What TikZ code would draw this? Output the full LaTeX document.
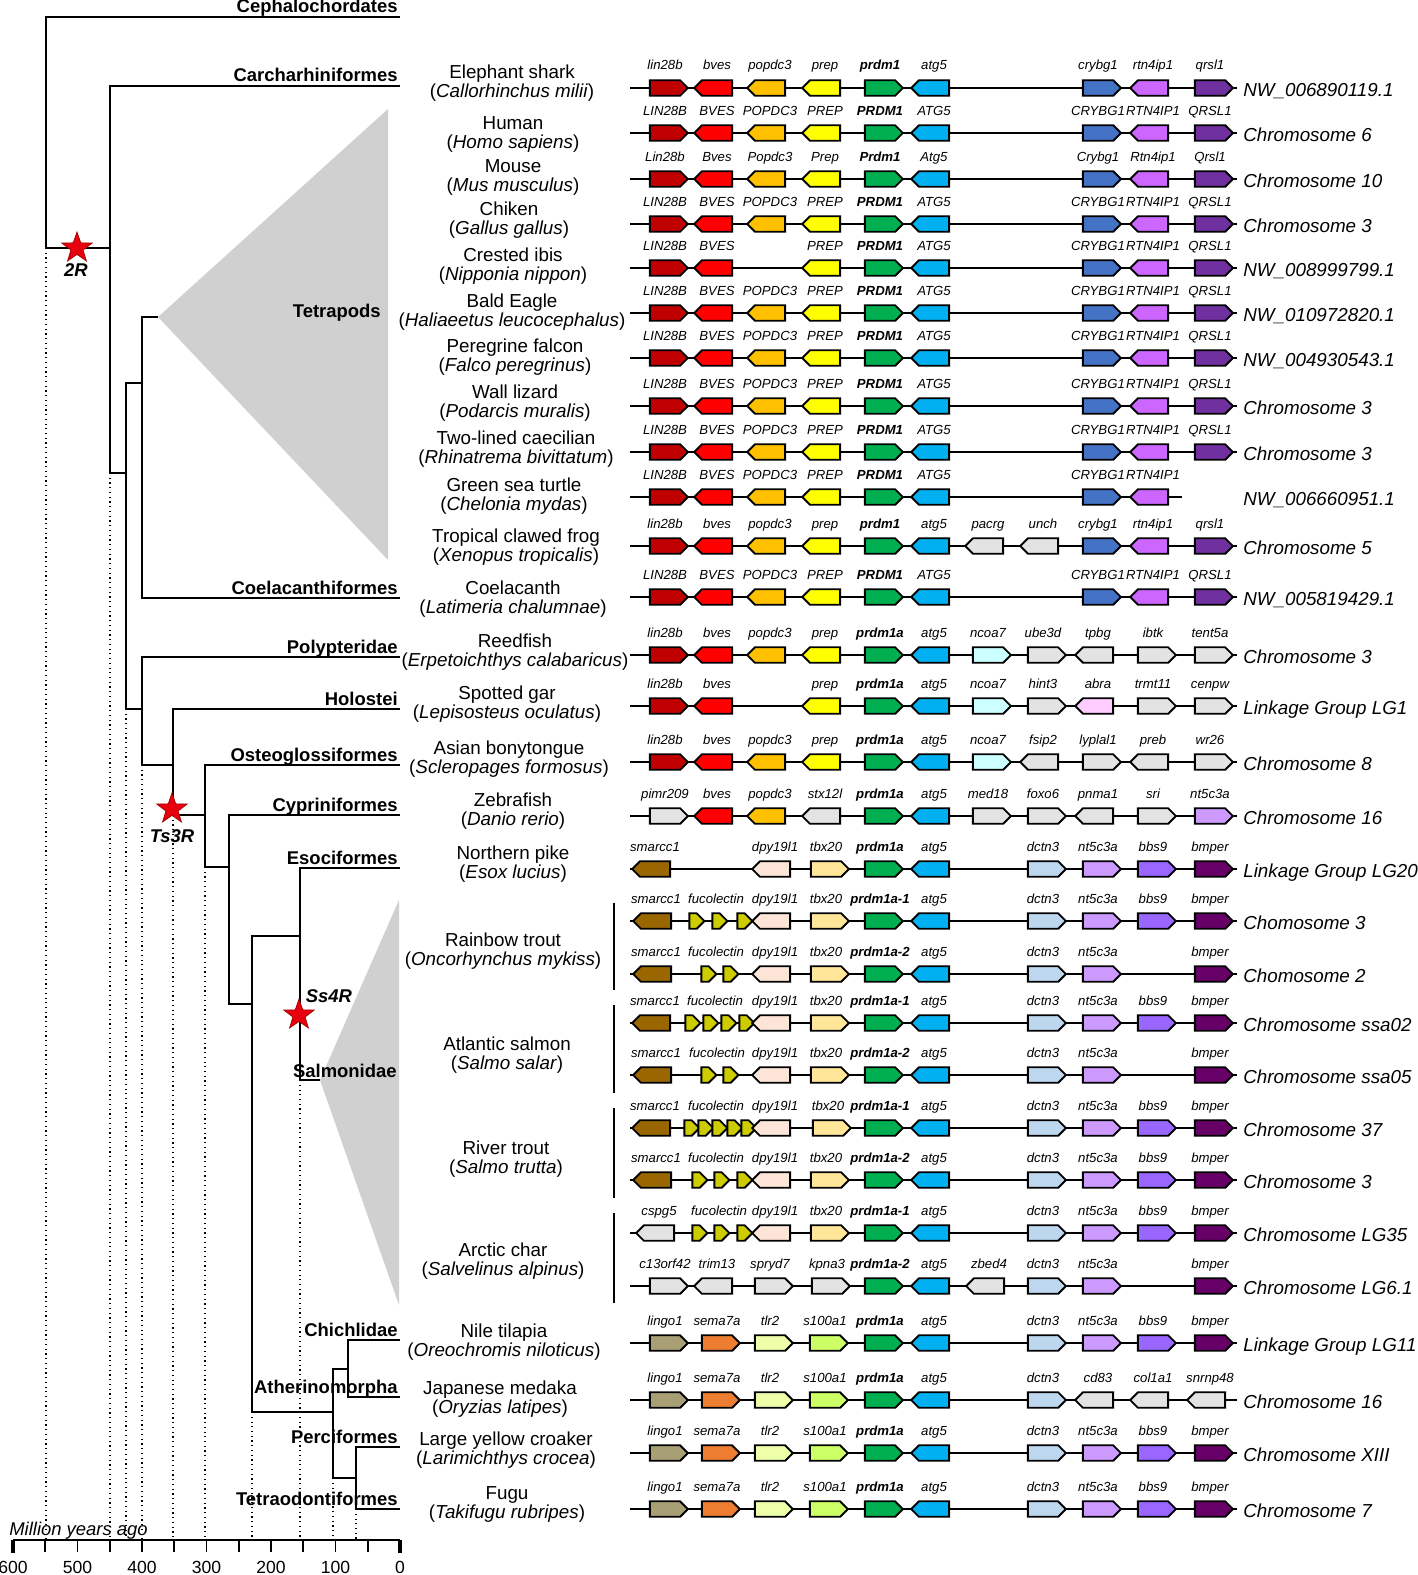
\documentclass[tikz,border=0pt]{standalone}
\usepackage{fontspec}
\setmainfont{Liberation Sans}
\usepackage{tikz}
\usetikzlibrary{shapes.geometric,shapes.symbols,positioning}

\definecolor{cLin}{HTML}{C00000}
\definecolor{cBves}{HTML}{FF0000}
\definecolor{cPop}{HTML}{FFC000}
\definecolor{cPrep}{HTML}{FFFF00}
\definecolor{cPrdm}{HTML}{00B050}
\definecolor{cAtg}{HTML}{00B0F0}
\definecolor{cCry}{HTML}{4472C4}
\definecolor{cRtn}{HTML}{CC66FF}
\definecolor{cQrs}{HTML}{7030A0}
\definecolor{cGray}{HTML}{E3E3E3}
\definecolor{cNcoa}{HTML}{CCFFFF}
\definecolor{cAbra}{HTML}{FFCCFF}
\definecolor{cNt}{HTML}{CC99FF}
\definecolor{cBbs}{HTML}{9966FF}
\definecolor{cBmp}{HTML}{660066}
\definecolor{cDct}{HTML}{BDD7EE}
\definecolor{cSma}{HTML}{996600}
\definecolor{cFuc}{HTML}{CCCC00}
\definecolor{cDpy}{HTML}{FCE4D6}
\definecolor{cTbx}{HTML}{FFE699}
\definecolor{cLingo}{HTML}{A89F74}
\definecolor{cSema}{HTML}{ED7D31}
\definecolor{cTlr}{HTML}{EEFFAA}
\definecolor{cSoo}{HTML}{CCFF66}
\definecolor{cClade}{HTML}{D0D0D0}
\definecolor{cStar}{HTML}{E8000F}
\definecolor{cStarEdge}{HTML}{A00000}

% one gene track: name, y, end of line, chromosome, genes as x/dir/colour/label
\newcommand{\track}[5]{%
  \coordinate (#1s) at (630,#2);
  \coordinate (#1e) at (#3,#2);
  \draw[bbone] (#1s) -- (#1e);
  \foreach \gX/\gD/\gC/\gT [count=\gN] in {#5} {
    \node[g\gD, fill=\gC] (#1g\gN) at (\gX,#2) {};
    \node[glbl] (#1t\gN) at ({\gX},{#2-18}) {\gT};
  }
  \node[chrom] (#1c) at (1243,{#2+8}) {#4};
}

\begin{document}
\begin{tikzpicture}[x=0.02cm, y=-0.02cm,
    gene/.style={signal, draw, line width=1.1pt, minimum width=0.76cm,
                 minimum height=0.31cm, inner sep=0pt},
    gR/.style={gene, signal to=east},
    gL/.style={gene, signal to=west},
    gF/.style={gene, signal to=east, minimum width=0.3cm},
    glbl/.style={font=\fontsize{7.5}{9}\selectfont\itshape, anchor=base, inner sep=0pt},
    chrom/.style={font=\fontsize{10.7}{12}\selectfont\itshape, anchor=base west, inner sep=0pt},
    sp/.style={font=\fontsize{10.7}{10.8}\selectfont, align=center, inner sep=0pt},
    clade/.style={font=\fontsize{10.5}{12}\selectfont\bfseries, anchor=base east, inner sep=0pt},
    tree/.style={line width=0.85pt},
    bbone/.style={line width=0.7pt},
    vdot/.style={dotted, line width=0.7pt},
    axis/.style={line width=1pt},
    dup/.style={star, star points=5, star point ratio=2.5, minimum size=0.64cm,
                inner sep=0pt, fill=cStar, draw=cStarEdge, line width=0.4pt},
    duplbl/.style={font=\fontsize{10.5}{12}\selectfont\bfseries\itshape, inner sep=0pt},
    yrs/.style={font=\fontsize{10}{12}\selectfont, inner sep=0pt},
  ]
  \useasboundingbox (0,0) rectangle (1417,1575);

  % Tree tips and inner nodes
  \coordinate (cephT) at (400,17);
  \coordinate (carT) at (400,86);
  \coordinate (coelT) at (400,598);
  \coordinate (polyT) at (400,657);
  \coordinate (holoT) at (400,709);
  \coordinate (osteT) at (400,765);
  \coordinate (cypT) at (400,815);
  \coordinate (esoT) at (400,868);
  \coordinate (chiT) at (400,1340);
  \coordinate (athT) at (400,1397);
  \coordinate (perT) at (400,1447);
  \coordinate (tetT) at (400,1509);
  \coordinate (tetA) at (158,317);
  \coordinate (salA) at (320,1080);
  \coordinate (root) at (46,248);
  \coordinate (gna) at (110,248);
  \coordinate (ost) at (126,473);
  \coordinate (sar) at (142,383);
  \coordinate (act) at (142,709);
  \coordinate (neo) at (173,765);
  \coordinate (tel) at (205,815);
  \coordinate (oto) at (229,867);
  \coordinate (eut) at (252,1004);
  \coordinate (eso) at (300,936);
  \coordinate (per) at (333,1412);
  \coordinate (ath) at (348,1369);
  \coordinate (tet) at (356,1478);
  \coordinate (ax0) at (13,1540);
  \coordinate (ax1) at (400,1540);

  % Dotted time guides
  \draw[vdot] (root) -- (root |- ax0);
  \draw[vdot] (gna |- ost) -- (gna |- ax0);
  \draw[vdot] (ost |- act) -- (ost |- ax0);
  \draw[vdot] (act |- neo) -- (act |- ax0);
  \draw[vdot] (neo |- tel) -- (neo |- ax0);
  \draw[vdot] (tel |- oto) -- (tel |- ax0);
  \draw[vdot] (eut |- per) -- (eut |- ax0);
  \draw[vdot] (eso |- salA) -- (eso |- ax0);
  \draw[vdot] (per |- tet) -- (per |- ax0);
  \draw[vdot] (tet |- tetT) -- (tet |- ax0);

  % Collapsed clades
  \coordinate (tetTop) at (388,109);
  \coordinate (tetBot) at (388,560);
  \fill[cClade] (tetA) -- (tetTop) -- (tetBot) -- cycle;
  \coordinate (salTop) at (399,900);
  \coordinate (salBot) at (399,1305);
  \fill[cClade] (salA) -- (salTop) -- (salBot) -- cycle;

  % Branches
  \draw[tree] (cephT) -| (root) |- (gna);
  \draw[tree] (carT) -| (gna) |- (ost);
  \draw[tree] (sar) -| (ost) |- (act);
  \draw[tree] (tetA) -| (sar) |- (coelT);
  \draw[tree] (polyT) -| (act) |- (neo);
  \draw[tree] (holoT) -| (neo) |- (tel);
  \draw[tree] (osteT) -| (tel) |- (oto);
  \draw[tree] (cypT) -| (oto) |- (eut);
  \draw[tree] (eso) -| (eut) |- (per);
  \draw[tree] (esoT) -| (eso) |- (salA);
  \draw[tree] (ath) -| (per) |- (tet);
  \draw[tree] (chiT) -| (ath) |- (athT);
  \draw[tree] (perT) -| (tet) |- (tetT);

  % Clade names
  \node[clade] (cephL) at (398,13) {Cephalochordates};
  \node[clade] (carL) at (398,82) {Carcharhiniformes};
  \node[clade, anchor=east] (tetL) at (381,313) {Tetrapods};
  \node[clade] (coelL) at (398,594) {Coelacanthiformes};
  \node[clade] (polyL) at (398,653) {Polypteridae};
  \node[clade] (holoL) at (398,705) {Holostei};
  \node[clade] (osteL) at (398,761) {Osteoglossiformes};
  \node[clade] (cypL) at (398,811) {Cypriniformes};
  \node[clade] (esoL) at (398,864) {Esociformes};
  \node[clade] (salL) at (397,1077) {Salmonidae};
  \node[clade] (chiL) at (398,1336) {Chichlidae};
  \node[clade] (athL) at (398,1393) {Atherinomorpha};
  \node[clade] (perL) at (398,1443) {Perciformes};
  \node[clade] (tetrL) at (398,1505) {Tetraodontiformes};

  % Genome duplications
  \node[dup] (s2R) at (77,248) {};
  \node[duplbl] (l2R) at (76,270) {2R};
  \node[dup] (s3R) at (172,809) {};
  \node[duplbl] (l3R) at (172,836) {Ts3R};
  \node[dup] (s4R) at (299,1015) {};
  \node[duplbl] (l4R) at (329,996) {Ss4R};

  % Time axis
  \draw[axis] (ax0) -- (ax1);
  \foreach \t in {50,100,...,550}
    \draw[axis] ({400-0.645*\t},1540) -- ++(0,12);
  \draw[axis, line width=2pt] (ax0) -- ++(0,13);
  \draw[axis, line width=2pt] (ax1) -- ++(0,13);
  \foreach \t in {0,100,...,600}
    \node[yrs] (yr\t) at ({400-0.645*\t},1567) {\t};
  \node[yrs, font=\fontsize{10.5}{12}\selectfont\itshape, anchor=base west] (mya) at (9,1535) {Million years ago};

  % Species
  \node[sp] (spShark) at (512,83) {Elephant shark\\(\textit{Callorhinchus milii})};
  \node[sp] (spHuman) at (513,134) {Human\\(\textit{Homo sapiens})};
  \node[sp] (spMouse) at (513,177) {Mouse\\(\textit{Mus musculus})};
  \node[sp] (spChick) at (509,220) {Chiken\\(\textit{Gallus gallus})};
  \node[sp] (spIbis) at (513,266) {Crested ibis\\(\textit{Nipponia nippon})};
  \node[sp] (spEagle) at (512,312) {Bald Eagle\\(\textit{Haliaeetus leucocephalus})};
  \node[sp] (spFalc) at (515,357) {Peregrine falcon\\(\textit{Falco peregrinus})};
  \node[sp] (spLiz) at (515,403) {Wall lizard\\(\textit{Podarcis muralis})};
  \node[sp] (spCaec) at (516,449) {Two-lined caecilian\\(\textit{Rhinatrema bivittatum})};
  \node[sp] (spTurt) at (514,496) {Green sea turtle\\(\textit{Chelonia mydas})};
  \node[sp] (spFrog) at (516,547) {Tropical clawed frog\\(\textit{Xenopus tropicalis})};
  \node[sp] (spCoel) at (513,599) {Coelacanth\\(\textit{Latimeria chalumnae})};
  \node[sp] (spReed) at (515,652) {Reedfish\\(\textit{Erpetoichthys calabaricus})};
  \node[sp] (spGar) at (507,704) {Spotted gar\\(\textit{Lepisosteus oculatus})};
  \node[sp] (spTong) at (509,759) {Asian bonytongue\\(\textit{Scleropages formosus})};
  \node[sp] (spZebra) at (513,811) {Zebrafish\\(\textit{Danio rerio})};
  \node[sp] (spPike) at (513,864) {Northern pike\\(\textit{Esox lucius})};
  \node[sp] (spTrout) at (503,951) {Rainbow trout\\(\textit{Oncorhynchus mykiss})};
  \node[sp] (spSalm) at (507,1055) {Atlantic salmon\\(\textit{Salmo salar})};
  \node[sp] (spRiver) at (506,1159) {River trout\\(\textit{Salmo trutta})};
  \node[sp] (spChar) at (503,1261) {Arctic char\\(\textit{Salvelinus alpinus})};
  \node[sp] (spTila) at (504,1342) {Nile tilapia\\(\textit{Oreochromis niloticus})};
  \node[sp] (spMed) at (500,1399) {Japanese medaka\\(\textit{Oryzias latipes})};
  \node[sp] (spCroak) at (506,1450) {Large yellow croaker\\(\textit{Larimichthys crocea})};
  \node[sp] (spFugu) at (507,1504) {Fugu\\(\textit{Takifugu rubripes})};

  % Salmonid paralogue brackets
  \draw[bbone] (614,903) -- (614,990);
  \draw[bbone] (614,1005) -- (614,1093);
  \draw[bbone] (614,1108) -- (614,1198);
  \draw[bbone] (614,1213) -- (614,1303);

  % Gene tracks
  \track{shark}{88}{1237}{NW\_006890119.1}{665/R/cLin/lin28b, 717/L/cBves/bves, 770/L/cPop/popdc3, 825/L/cPrep/prep, 880/R/cPrdm/\textbf{prdm1}, 934/L/cAtg/atg5, 1098/R/cCry/crybg1, 1153/L/cRtn/rtn4ip1, 1210/R/cQrs/qrsl1}
  \track{human}{133}{1237}{Chromosome 6}{665/R/cLin/LIN28B, 717/L/cBves/BVES, 770/L/cPop/POPDC3, 825/L/cPrep/PREP, 880/R/cPrdm/\textbf{PRDM1}, 934/L/cAtg/ATG5, 1098/R/cCry/CRYBG1, 1153/L/cRtn/RTN4IP1, 1210/R/cQrs/QRSL1}
  \track{mouse}{179}{1237}{Chromosome 10}{665/R/cLin/Lin28b, 717/L/cBves/Bves, 770/L/cPop/Popdc3, 825/L/cPrep/Prep, 880/R/cPrdm/\textbf{Prdm1}, 934/L/cAtg/Atg5, 1098/R/cCry/Crybg1, 1153/L/cRtn/Rtn4ip1, 1210/R/cQrs/Qrsl1}
  \track{chick}{224}{1237}{Chromosome 3}{665/R/cLin/LIN28B, 717/L/cBves/BVES, 770/L/cPop/POPDC3, 825/L/cPrep/PREP, 880/R/cPrdm/\textbf{PRDM1}, 934/L/cAtg/ATG5, 1098/R/cCry/CRYBG1, 1153/L/cRtn/RTN4IP1, 1210/R/cQrs/QRSL1}
  \track{ibis}{268}{1237}{NW\_008999799.1}{665/R/cLin/LIN28B, 717/L/cBves/BVES, 825/L/cPrep/PREP, 880/R/cPrdm/\textbf{PRDM1}, 934/L/cAtg/ATG5, 1098/R/cCry/CRYBG1, 1153/L/cRtn/RTN4IP1, 1210/R/cQrs/QRSL1}
  \track{eagle}{313}{1237}{NW\_010972820.1}{665/R/cLin/LIN28B, 717/L/cBves/BVES, 770/L/cPop/POPDC3, 825/L/cPrep/PREP, 880/R/cPrdm/\textbf{PRDM1}, 934/L/cAtg/ATG5, 1098/R/cCry/CRYBG1, 1153/L/cRtn/RTN4IP1, 1210/R/cQrs/QRSL1}
  \track{falc}{358}{1237}{NW\_004930543.1}{665/R/cLin/LIN28B, 717/L/cBves/BVES, 770/L/cPop/POPDC3, 825/L/cPrep/PREP, 880/R/cPrdm/\textbf{PRDM1}, 934/L/cAtg/ATG5, 1098/R/cCry/CRYBG1, 1153/L/cRtn/RTN4IP1, 1210/R/cQrs/QRSL1}
  \track{liz}{406}{1237}{Chromosome 3}{665/R/cLin/LIN28B, 717/L/cBves/BVES, 770/L/cPop/POPDC3, 825/L/cPrep/PREP, 880/R/cPrdm/\textbf{PRDM1}, 934/L/cAtg/ATG5, 1098/R/cCry/CRYBG1, 1153/L/cRtn/RTN4IP1, 1210/R/cQrs/QRSL1}
  \track{caec}{452}{1237}{Chromosome 3}{665/R/cLin/LIN28B, 717/L/cBves/BVES, 770/L/cPop/POPDC3, 825/L/cPrep/PREP, 880/R/cPrdm/\textbf{PRDM1}, 934/L/cAtg/ATG5, 1098/R/cCry/CRYBG1, 1153/L/cRtn/RTN4IP1, 1210/R/cQrs/QRSL1}
  \track{turt}{497}{1182}{NW\_006660951.1}{665/R/cLin/LIN28B, 717/L/cBves/BVES, 770/L/cPop/POPDC3, 825/L/cPrep/PREP, 880/R/cPrdm/\textbf{PRDM1}, 934/L/cAtg/ATG5, 1098/R/cCry/CRYBG1, 1153/L/cRtn/RTN4IP1}
  \track{frog}{546}{1237}{Chromosome 5}{665/R/cLin/lin28b, 717/L/cBves/bves, 770/L/cPop/popdc3, 825/L/cPrep/prep, 880/R/cPrdm/\textbf{prdm1}, 934/L/cAtg/atg5, 988/L/cGray/pacrg, 1043/L/cGray/unch, 1098/R/cCry/crybg1, 1153/L/cRtn/rtn4ip1, 1210/R/cQrs/qrsl1}
  \track{coel}{597}{1237}{NW\_005819429.1}{665/R/cLin/LIN28B, 717/L/cBves/BVES, 770/L/cPop/POPDC3, 825/L/cPrep/PREP, 880/R/cPrdm/\textbf{PRDM1}, 934/L/cAtg/ATG5, 1098/R/cCry/CRYBG1, 1153/L/cRtn/RTN4IP1, 1210/R/cQrs/QRSL1}
  \track{reed}{655}{1237}{Chromosome 3}{665/R/cLin/lin28b, 717/L/cBves/bves, 770/L/cPop/popdc3, 825/L/cPrep/prep, 880/R/cPrdm/\textbf{prdm1a}, 934/L/cAtg/atg5, 988/R/cNcoa/ncoa7, 1043/R/cGray/ube3d, 1098/L/cGray/tpbg, 1153/R/cGray/ibtk, 1210/R/cGray/tent5a}
  \track{gar}{706}{1237}{Linkage Group LG1}{665/R/cLin/lin28b, 717/L/cBves/bves, 825/L/cPrep/prep, 880/R/cPrdm/\textbf{prdm1a}, 934/L/cAtg/atg5, 988/R/cNcoa/ncoa7, 1043/R/cGray/hint3, 1098/L/cAbra/abra, 1153/R/cGray/trmt11, 1210/R/cGray/cenpw}
  \track{tong}{762}{1237}{Chromosome 8}{665/R/cLin/lin28b, 717/L/cBves/bves, 770/L/cPop/popdc3, 825/L/cPrep/prep, 880/R/cPrdm/\textbf{prdm1a}, 934/L/cAtg/atg5, 988/R/cNcoa/ncoa7, 1043/L/cGray/fsip2, 1098/R/cGray/lyplal1, 1153/L/cGray/preb, 1210/R/cGray/wr26}
  \track{zebra}{816}{1237}{Chromosome 16}{665/R/cGray/pimr209, 717/L/cBves/bves, 770/L/cPop/popdc3, 825/L/cGray/stx12l, 880/R/cPrdm/\textbf{prdm1a}, 934/L/cAtg/atg5, 988/R/cGray/med18, 1043/R/cGray/foxo6, 1098/L/cGray/pnma1, 1153/R/cGray/sri, 1210/R/cNt/nt5c3a}
  \track{pike}{869}{1237}{Linkage Group LG20}{655/L/cSma/smarcc1, 775/L/cDpy/dpy19l1, 826/R/cTbx/tbx20, 880/R/cPrdm/\textbf{prdm1a}, 934/L/cAtg/atg5, 1043/R/cDct/dctn3, 1098/R/cNt/nt5c3a, 1153/R/cBbs/bbs9, 1210/R/cBmp/bmper}

  % Salmonid tracks
  \track{trouta}{921}{1237}{Chomosome 3}{656/L/cSma/smarcc1, 693/F/cFuc/{}, 716/F/cFuc/{}, 741/F/cFuc/{}, 775/L/cDpy/dpy19l1, 826/R/cTbx/tbx20, 880/R/cPrdm/\textbf{prdm1a-1}, 934/L/cAtg/atg5, 1043/R/cDct/dctn3, 1098/R/cNt/nt5c3a, 1153/R/cBbs/bbs9, 1210/R/cBmp/bmper}
  \node[glbl] (troutaf) at (716,903) {fucolectin};
  \track{troutb}{974}{1237}{Chomosome 2}{656/L/cSma/smarcc1, 705/F/cFuc/{}, 727/F/cFuc/{}, 775/L/cDpy/dpy19l1, 826/R/cTbx/tbx20, 880/R/cPrdm/\textbf{prdm1a-2}, 934/L/cAtg/atg5, 1043/R/cDct/dctn3, 1098/R/cNt/nt5c3a, 1210/R/cBmp/bmper}
  \node[glbl] (troutbf) at (716,956) {fucolectin};
  \track{salma}{1023}{1237}{Chromosome ssa02}{655/L/cSma/smarcc1, 689/F/cFuc/{}, 707/F/cFuc/{}, 725/F/cFuc/{}, 743/F/cFuc/{}, 775/L/cDpy/dpy19l1, 826/R/cTbx/tbx20, 880/R/cPrdm/\textbf{prdm1a-1}, 934/L/cAtg/atg5, 1043/R/cDct/dctn3, 1098/R/cNt/nt5c3a, 1153/R/cBbs/bbs9, 1210/R/cBmp/bmper}
  \node[glbl] (salmaf) at (715,1005) {fucolectin};
  \track{salmb}{1075}{1237}{Chromosome ssa05}{656/L/cSma/smarcc1, 705/F/cFuc/{}, 727/F/cFuc/{}, 775/L/cDpy/dpy19l1, 826/R/cTbx/tbx20, 880/R/cPrdm/\textbf{prdm1a-2}, 934/L/cAtg/atg5, 1043/R/cDct/dctn3, 1098/R/cNt/nt5c3a, 1210/R/cBmp/bmper}
  \node[glbl] (salmbf) at (717,1057) {fucolectin};
  \track{rivera}{1128}{1237}{Chromosome 37}{655/L/cSma/smarcc1, 688/F/cFuc/{}, 702/F/cFuc/{}, 716/F/cFuc/{}, 731/F/cFuc/{}, 745/F/cFuc/{}, 775/L/cDpy/dpy19l1, 828/R/cTbx/tbx20, 880/R/cPrdm/\textbf{prdm1a-1}, 934/L/cAtg/atg5, 1043/R/cDct/dctn3, 1098/R/cNt/nt5c3a, 1153/R/cBbs/bbs9, 1210/R/cBmp/bmper}
  \node[glbl] (riveraf) at (716,1110) {fucolectin};
  \track{riverb}{1180}{1237}{Chromosome 3}{656/L/cSma/smarcc1, 696/F/cFuc/{}, 718/F/cFuc/{}, 741/F/cFuc/{}, 775/L/cDpy/dpy19l1, 826/R/cTbx/tbx20, 880/R/cPrdm/\textbf{prdm1a-2}, 934/L/cAtg/atg5, 1043/R/cDct/dctn3, 1098/R/cNt/nt5c3a, 1153/R/cBbs/bbs9, 1210/R/cBmp/bmper}
  \node[glbl] (riverbf) at (716,1162) {fucolectin};
  \track{chara}{1233}{1237}{Chromosome LG35}{659/L/cGray/cspg5, 696/F/cFuc/{}, 718/F/cFuc/{}, 741/F/cFuc/{}, 775/L/cDpy/dpy19l1, 826/R/cTbx/tbx20, 880/R/cPrdm/\textbf{prdm1a-1}, 934/L/cAtg/atg5, 1043/R/cDct/dctn3, 1098/R/cNt/nt5c3a, 1153/R/cBbs/bbs9, 1210/R/cBmp/bmper}
  \node[glbl] (charaf) at (719,1215) {fucolectin};
  \track{charb}{1286}{1237}{Chromosome LG6.1}{665/R/cGray/c13orf42, 717/L/cGray/trim13, 770/R/cGray/spryd7, 827/R/cGray/kpna3, 880/R/cPrdm/\textbf{prdm1a-2}, 934/L/cAtg/atg5, 989/L/cGray/zbed4, 1043/R/cDct/dctn3, 1098/R/cNt/nt5c3a, 1210/R/cBmp/bmper}

  % Acanthopterygii tracks
  \track{tila}{1343}{1237}{Linkage Group LG11}{665/R/cLingo/lingo1, 717/R/cSema/sema7a, 770/R/cTlr/tlr2, 825/R/cSoo/s100a1, 880/R/cPrdm/\textbf{prdm1a}, 934/L/cAtg/atg5, 1043/R/cDct/dctn3, 1098/R/cNt/nt5c3a, 1153/R/cBbs/bbs9, 1210/R/cBmp/bmper}
  \track{med}{1400}{1237}{Chromosome 16}{665/R/cLingo/lingo1, 717/R/cSema/sema7a, 770/R/cTlr/tlr2, 825/R/cSoo/s100a1, 880/R/cPrdm/\textbf{prdm1a}, 934/L/cAtg/atg5, 1043/R/cDct/dctn3, 1098/L/cGray/cd83, 1153/L/cGray/col1a1, 1210/L/cGray/snrnp48}
  \track{croak}{1453}{1237}{Chromosome XIII}{665/R/cLingo/lingo1, 717/R/cSema/sema7a, 770/R/cTlr/tlr2, 825/R/cSoo/s100a1, 880/R/cPrdm/\textbf{prdm1a}, 934/L/cAtg/atg5, 1043/R/cDct/dctn3, 1098/R/cNt/nt5c3a, 1153/R/cBbs/bbs9, 1210/R/cBmp/bmper}
  \track{fugu}{1509}{1237}{Chromosome 7}{665/R/cLingo/lingo1, 717/R/cSema/sema7a, 770/R/cTlr/tlr2, 825/R/cSoo/s100a1, 880/R/cPrdm/\textbf{prdm1a}, 934/L/cAtg/atg5, 1043/R/cDct/dctn3, 1098/R/cNt/nt5c3a, 1153/R/cBbs/bbs9, 1210/R/cBmp/bmper}

\end{tikzpicture}
\end{document}
